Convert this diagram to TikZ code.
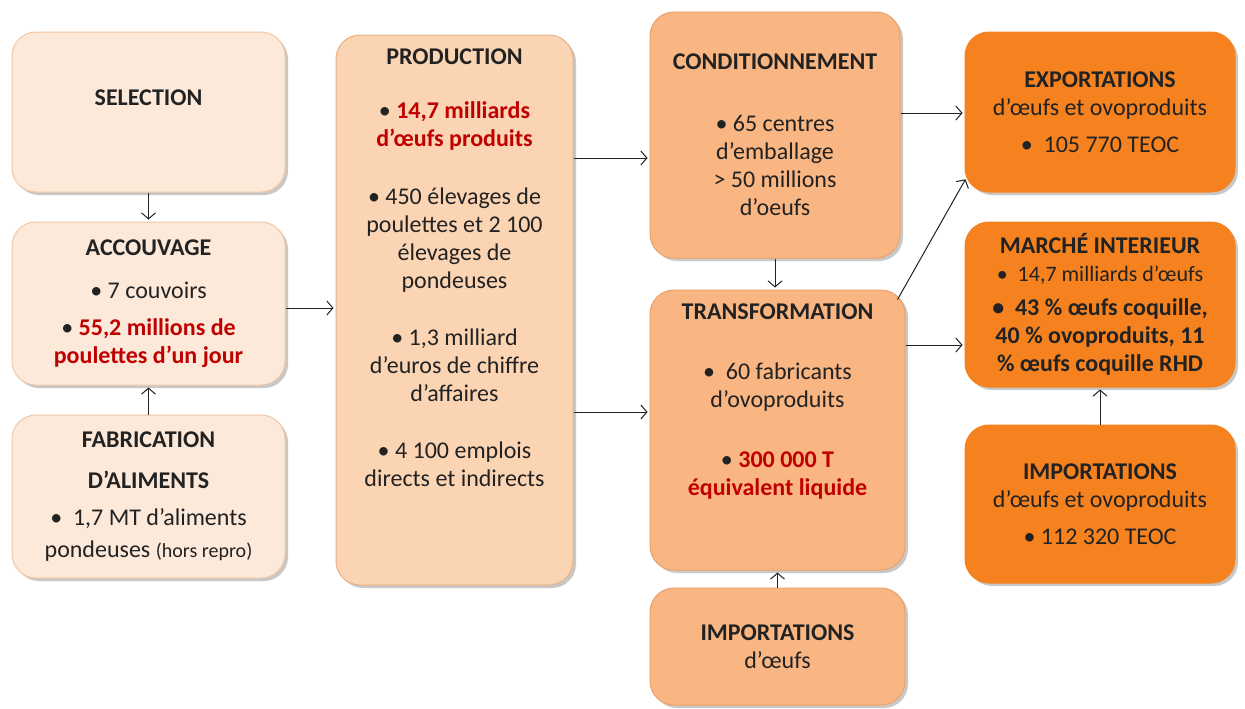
\documentclass[tikz,border=0pt]{standalone}
\usepackage{fontspec}
\setmainfont{Carlito}
\usetikzlibrary{arrows.meta,shadows}

\definecolor{encre}{HTML}{222222}
\definecolor{rouge}{HTML}{C00000}
\definecolor{pechepale}{HTML}{FDE9D9}
\definecolor{pechebord}{HTML}{F2C7A2}
\definecolor{prodfond}{HTML}{FBD4B4}
\definecolor{prodbord}{HTML}{E9B184}
\definecolor{midfond}{HTML}{F9B683}
\definecolor{midbord}{HTML}{EDA16A}
\definecolor{orangevif}{HTML}{F5821F}

\begin{document}
\begin{tikzpicture}[x=0.5pt, y=-0.5pt, font=\fontsize{12pt}{14pt}\selectfont,
    etape/.style={rounded corners=12pt, line width=0.5pt, align=center, inner sep=2pt, text=encre,
        drop shadow={shadow xshift=1.5pt, shadow yshift=-1.5pt, opacity=0.3, fill=black!70}},
    palebox/.style={etape, fill=pechepale, draw=pechebord, minimum width=136.5pt},
    prodbox/.style={etape, fill=prodfond, draw=prodbord},
    midbox/.style={etape, fill=midfond, draw=midbord, minimum width=127.5pt},
    vifbox/.style={etape, fill=orangevif, draw=orangevif, minimum width=135pt},
    fleche/.style={draw=encre, line width=0.5pt, shorten >=1pt, -{Straight Barb[length=3pt,width=7pt]}}]

    % Page
    \path[use as bounding box, fill=white] (0,0) rectangle (1245,708);

    % Left column
    \node[palebox, minimum height=80pt, text depth=14pt] (sel) at (148.5,112) {\textbf{SELECTION}};
    \node[palebox, minimum height=81.5pt] (acc) at (148.5,303.5) {\textbf{ACCOUVAGE}\\[7.5pt]
        • 7 couvoirs\\[4.5pt]
        • \textcolor{rouge}{\textbf{55,2 millions de}}\\
        \textcolor{rouge}{\textbf{poulettes d’un jour}}};
    \node[palebox, minimum height=81.5pt] (fab) at (148.5,496.5) {\textbf{FABRICATION}\\[6.5pt]
        \textbf{D’ALIMENTS}\\[4.5pt]
        •~~1,7 MT d’aliments\\[2pt]
        pondeuses {\fontsize{10pt}{12pt}\selectfont(hors repro)}};

    % Production
    \node[prodbox, minimum width=118.5pt, minimum height=275pt, text depth=42pt] (prod) at (454.5,310) {\textbf{PRODUCTION}\\[13pt]
        • \textcolor{rouge}{\textbf{14,7 milliards}}\\
        \textcolor{rouge}{\textbf{d’œufs produits}}\\[15pt]
        • 450 élevages de\\ poulettes et 2 100\\ élevages de\\ pondeuses\\[14.5pt]
        • 1,3 milliard\\ d’euros de chiffre\\ d’affaires\\[14.5pt]
        • 4 100 emplois\\ directs et indirects};

    % Middle column
    \node[midbox, minimum width=125pt, minimum height=123pt] (cond) at (775,135) {\textbf{CONDITIONNEMENT}\\[17pt]
        • 65 centres\\ d’emballage\\ > 50 millions\\ d’oeufs};
    \node[midbox, minimum height=140pt, text depth=30pt] (trans) at (777.5,430) {\textbf{TRANSFORMATION}\\[16pt]
        •~~60 fabricants\\ d’ovoproduits\\[16pt]
        • \textcolor{rouge}{\textbf{300 000 T}}\\
        \textcolor{rouge}{\textbf{équivalent liquide}}};
    \node[midbox, minimum height=58.5pt] (impo) at (777.5,646.5) {\textbf{IMPORTATIONS}\\ d’œufs};

    % Right column
    \node[vifbox, minimum height=80pt] (expo) at (1100,112) {\textbf{EXPORTATIONS}\\
        d’œufs et ovoproduits\\[4.5pt]
        •~~105 770 TEOC};
    \node[vifbox, minimum height=82.5pt] (march) at (1100,304.5) {\textbf{MARCHÉ INTERIEUR}\\
        {\fontsize{11pt}{14pt}\selectfont •~~14,7 milliards d’œufs}\\[3pt]
        \textbf{•~~43 \% œufs coquille,}\\
        \textbf{40 \% ovoproduits, 11}\\
        \textbf{\% œufs coquille RHD}};
    \node[vifbox, minimum height=79pt] (impr) at (1100,504) {\textbf{IMPORTATIONS}\\
        d’œufs et ovoproduits\\[4.5pt]
        • 112 320 TEOC};

    % Arrows
    % -- left side
    \draw[fleche] (sel) -- (acc);
    \draw[fleche] (fab) -- (acc);
    \draw[fleche] (acc.east |- 0,308) -- (prod.west |- 0,308);

    % -- middle
    \draw[fleche] (prod.east |- 0,158) -- (cond.west |- 0,158);
    \draw[fleche] (prod.east |- 0,412) -- (trans.west |- 0,412);
    \draw[fleche] (cond.south) -- (cond.south |- trans.north);
    \draw[fleche] (impo) -- (trans);

    % -- right side
    \draw[fleche] (cond.east |- 0,113) -- (expo.west |- 0,113);
    \draw[fleche] ([shift={(-8,10)}]trans.north east) -- ([shift={(2,-15)}]expo.south west);
    \draw[fleche] (trans.east |- 0,345) -- (march.west |- 0,345);
    \draw[fleche] (impr) -- (march);
\end{tikzpicture}
\end{document}
